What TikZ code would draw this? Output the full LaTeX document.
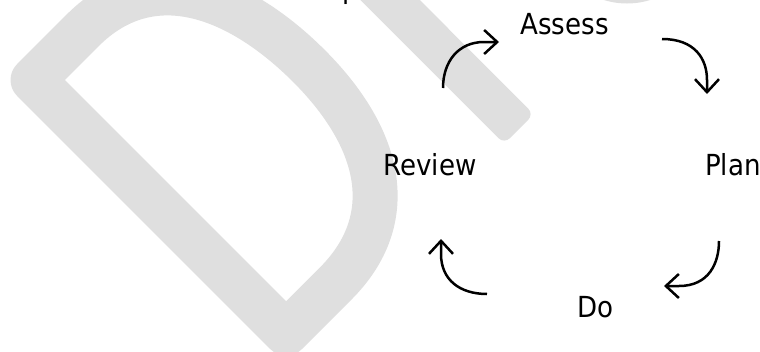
\documentclass[tikz,border=0pt]{standalone}
\usepackage{fontspec}
\setmainfont{DejaVu Sans Condensed}
\usetikzlibrary{arrows.meta}
\definecolor{markgray}{RGB}{223,223,223}
\begin{document}
\begin{tikzpicture}[x=1pt,y=-1pt,
  stage/.style={font=\fontsize{29}{34}\selectfont, inner sep=0pt, anchor=base},
  cyc/.style={line width=2.5pt, -{Straight Barb[length=13pt,width=24pt]}},
  bigletter/.style={draw=markgray, line width=45pt, line join=round}]
\useasboundingbox (0,0) rectangle (760,351);
% large pale lettering behind the cycle
\draw[bigletter] (33,80) -- (82.5,30.5)
  .. controls (153.2,-40.2) and (241.6,-1.3) .. (308.8,65.8)
  .. controls (383,140) and (399.2,220) .. (335.6,283.6)
  -- (286.1,333.1) -- cycle;
\fill[markgray, rounded corners=8pt] (315.2,-45.2) -- (504.2,143.9)
  -- (533.9,114.2) -- (344.9,-74.9) -- cycle;
\fill[markgray] (627,-73.5) circle (77);
% heading line cut by the top edge
\node[stage, anchor=base west] (heading) at (342.6,-2) {p};
% the four stages
\node[stage] (assess) at (564.5,34) {Assess};
\node[stage] (plan)   at (733,175)  {Plan};
\node[stage] (do)     at (595.5,317) {Do};
\node[stage] (review) at (430,175)  {Review};
% curved arrows between the stages
\coordinate (ra) at (443,88);  \coordinate (ar) at (499,42);
\coordinate (ap) at (662,39);  \coordinate (pa) at (707,94);
\coordinate (pd) at (719,241); \coordinate (dp) at (664,286);
\coordinate (dr) at (487,294); \coordinate (rd) at (441,239);
\draw[cyc] (ra) .. controls (443,62) and (458,42) .. (484,42) -- (ar);
\draw[cyc] (ap) .. controls (695,39) and (707,59) .. (707,80) -- (pa);
\draw[cyc] (pd) .. controls (719,263) and (709,286) .. (679,286) -- (dp);
\draw[cyc] (dr) .. controls (460,294) and (441,280) .. (441,254) -- (rd);
\end{tikzpicture}
\end{document}
